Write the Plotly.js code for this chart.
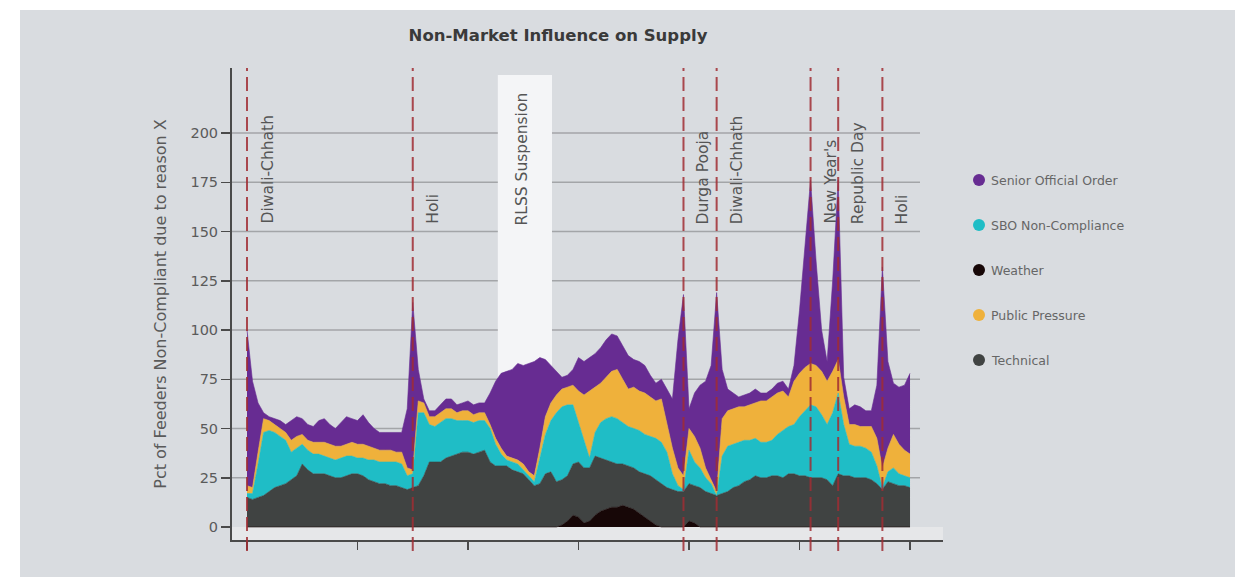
<!DOCTYPE html>
<html><head><meta charset="utf-8">
<script src="https://cdn.plot.ly/plotly-3.0.1.min.js"></script>
<style>
html,body{margin:0;padding:0;background:#ffffff;width:1255px;height:577px;overflow:hidden;}
#chart{position:absolute;left:20px;top:10px;width:1215px;height:567px;}
</style></head><body><div id="chart"></div>
<script>
// ---------- DATA ----------
const chartTitle = 'Non-Market Influence on Supply';
const yAxisTitle = 'Pct of Feeders Non-Compliant due to reason X';

// observation index (x axis has no labels in the source)
const periods = Array.from({length: 121}, (_, i) => i);

const weather = [
  0,0,0,0,0,0,0,0,0,0,
  0,0,0,0,0,0,0,0,0,0,
  0,0,0,0,0,0,0,0,0,0,
  0,0,0,0,0,0,0,0,0,0,
  0,0,0,0,0,0,0,0,0,0,
  0,0,0,0,0,0,0,1,3,6,
  5,2,3,6,8,9,10,10,11,10,
  9,7,5,3,1,0,0,0,0,0,
  3,2,0,0,0,0,0,0,0,0,
  0,0,0,0,0,0,0,0,0,0,
  0,0,0,0,0,0,0,0,0,0,
  0,0,0,0,0,0,0,0,0,0,0
];
const technical = [
  15,14,15,16,18,20,21,22,24,26,
  32,29,27,27,27,26,25,25,26,27,
  27,26,24,23,22,22,21,21,20,19,
  20,21,26,33,33,33,35,36,37,38,
  38,37,38,39,33,31,31,31,29,28,
  27,24,21,22,27,28,23,23,23,26,
  28,28,27,30,27,25,23,22,21,21,
  21,21,22,23,23,22,20,19,18,18,
  19,19,20,18,17,16,17,18,20,21,
  23,24,26,25,25,26,26,25,27,27,
  26,26,25,25,25,24,21,27,26,26,
  25,25,25,24,22,19,23,22,21,21,20
];
const sboNonCompliance = [
  2,3,17,32,31,28,25,22,14,14,
  10,10,10,10,9,9,9,10,10,9,
  8,9,10,11,11,11,12,12,12,7,
  7,37,32,19,18,20,20,19,17,16,
  16,16,16,15,17,11,6,3,4,4,
  2,2,2,13,20,26,35,37,36,30,
  20,14,5,12,18,21,23,23,21,20,
  20,21,20,20,21,21,18,8,3,1,
  17,12,10,7,5,0,19,23,22,22,
  21,20,19,18,18,18,21,24,24,25,
  30,33,37,36,32,28,37,41,26,16,
  16,16,15,14,9,1,5,8,6,5,5
];
const publicPressure = [
  4,3,6,7,5,4,4,4,6,6,
  5,5,6,6,7,7,7,6,6,7,
  7,7,7,6,6,6,6,5,6,4,
  2,6,5,4,5,5,5,5,4,5,
  5,4,4,4,2,3,3,2,2,2,
  3,2,3,5,9,9,9,9,9,10,
  16,23,34,23,20,21,23,25,22,19,
  21,20,21,20,19,22,14,13,9,7,
  11,13,10,5,2,2,19,18,18,18,
  17,18,18,21,21,22,21,20,15,22,
  22,22,21,21,22,22,21,17,14,10,
  11,10,11,13,14,10,12,17,15,13,12
];
const seniorOfficialOrder = [
  79,54,25,3,2,3,4,4,10,10,
  8,8,8,11,12,10,9,12,14,12,
  12,15,12,10,9,9,9,10,10,30,
  85,16,2,3,3,4,5,5,4,4,
  5,5,5,5,16,29,38,43,45,49,
  50,55,58,46,29,19,12,6,6,8,
  17,17,17,17,18,19,19,17,17,17,
  14,15,14,11,9,10,18,25,65,92,
  10,22,32,44,58,101,25,11,8,5,
  6,6,7,4,4,4,5,5,4,8,
  32,64,93,53,21,10,46,91,10,8,
  10,10,8,8,27,102,44,26,29,33,41
];

// stacking order bottom -> top
const stackNames = ['Weather', 'Technical', 'SBO Non-Compliance', 'Public Pressure', 'Senior Official Order'];
const stackValues = [weather, technical, sboNonCompliance, publicPressure, seniorOfficialOrder];
// legend order (top -> bottom)
const legendNames = ['Senior Official Order', 'SBO Non-Compliance', 'Weather', 'Public Pressure', 'Technical'];

// events (dashed lines)
const eventLabels = ['Diwali-Chhath', 'Holi', 'Durga Pooja', 'Diwali-Chhath', "New Year's", 'Republic Day', 'Holi'];
const eventIndex = [0, 30, 79, 85, 102, 107, 115];
// shaded period
const shadeLabel = 'RLSS Suspension';
const shadeStart = 45.4;
const shadeEnd = 55.2;

const yTicks = [0, 25, 50, 75, 100, 125, 150, 175, 200];
const xTicks = [0, 20, 40, 60, 80, 100, 120];

// ---------- STYLE ----------
const colors = {
  'Weather': '#170707',
  'Technical': '#404342',
  'SBO Non-Compliance': '#1fbdc6',
  'Public Pressure': '#efb13b',
  'Senior Official Order': '#672c92'
};
const FONT = 'DejaVu Sans, Verdana, sans-serif';

// page-pixel helpers (div at left 20, top 10; plot area 232..943 x 68..540)
const PX0 = 232, PW = 711, PY1 = 540, PH = 472;
const pX = px => (px - PX0) / PW;
const pY = py => (PY1 - py) / PH;

const traces = stackNames.map((name, k) => ({
  type: 'scatter',
  mode: 'lines',
  name: name,
  x: periods,
  y: stackValues[k],
  stackgroup: 'one',
  line: {width: 0.6, color: colors[name], shape: 'linear'},
  fillcolor: colors[name],
  showlegend: false,
  hoverinfo: 'x+y+name'
}));

const shapes = [];
// light band under zero
shapes.push({type: 'rect', xref: 'paper', x0: 0, x1: 1, yref: 'y', y0: -6.6, y1: 0,
  fillcolor: '#e6e7e9', line: {width: 0}, layer: 'below'});
// grid lines
yTicks.filter(v => v > 0).forEach(v => shapes.push({
  type: 'line', xref: 'paper', x0: 0, x1: pX(920), yref: 'y', y0: v, y1: v,
  line: {color: '#a3a5a8', width: 1.5}, layer: 'below'}));
// shaded period
shapes.push({type: 'rect', xref: 'x', x0: shadeStart, x1: shadeEnd, yref: 'paper', y0: pY(527), y1: pY(75),
  fillcolor: '#f4f5f7', line: {width: 0}, layer: 'below'});
// event lines
eventIndex.forEach(ix => shapes.push({
  type: 'line', xref: 'x', x0: ix, x1: ix, yref: 'paper', y0: pY(551), y1: pY(68),
  line: {color: 'rgba(160,45,50,0.85)', width: 2, dash: '14px,6px'}, layer: 'above'}));
// legend markers
legendNames.forEach((name, k) => shapes.push({
  type: 'circle', xref: 'paper', yref: 'paper', xsizemode: 'pixel', ysizemode: 'pixel',
  xanchor: pX(979), yanchor: pY(180 + 45 * k), x0: -6, x1: 6, y0: -6, y1: 6,
  fillcolor: colors[name], line: {width: 0}}));

const annotations = [];
eventLabels.forEach((lab, k) => annotations.push({
  text: lab, xref: 'x', x: eventIndex[k], yref: 'paper', y: pY(226),
  xanchor: 'left', yanchor: 'bottom', xshift: 9, textangle: -90, showarrow: false,
  font: {family: FONT, size: 15.5, color: '#555555'}}));
annotations.push({
  text: shadeLabel, xref: 'x', x: (shadeStart + shadeEnd) / 2, yref: 'paper', y: pY(227),
  xanchor: 'center', yanchor: 'bottom', xshift: -3, textangle: -90, showarrow: false,
  font: {family: FONT, size: 15.5, color: '#555555'}});
legendNames.forEach((name, k) => annotations.push({
  text: name, xref: 'paper', x: pX(989), yref: 'paper', y: pY(180 + 45 * k),
  xanchor: 'left', yanchor: 'middle', showarrow: false,
  font: {family: FONT, size: 12.5, color: '#666666'}}));

const layout = {
  width: 1215, height: 567,
  margin: {l: 212, r: 292, t: 58, b: 37, pad: 0},
  paper_bgcolor: '#d9dce0',
  plot_bgcolor: 'rgba(0,0,0,0)',
  showlegend: false,
  title: {text: chartTitle, xref: 'container', x: (558 - 20) / 1215, xanchor: 'center',
    yref: 'container', y: 1 - (35 - 10) / 567, yanchor: 'middle',
    font: {family: FONT, size: 16.5, color: '#3a3a3a', weight: 'bold'}},
  xaxis: {range: [-2.715, 125.97], tickvals: xTicks, showticklabels: false,
    ticks: 'outside', ticklen: 8, tickwidth: 1.5, tickcolor: '#4a4a4a',
    showline: true, linecolor: '#4a4a4a', linewidth: 2, showgrid: false, zeroline: false, fixedrange: true},
  yaxis: {range: [-6.6, 233], tickvals: yTicks, ticks: 'outside', ticklen: 9, tickwidth: 1.5,
    tickcolor: '#4a4a4a', showline: true, linecolor: '#4a4a4a', linewidth: 2,
    showgrid: false, zeroline: false, fixedrange: true,
    tickfont: {family: FONT, size: 14.5, color: '#5a5a5a'},
    title: {text: yAxisTitle, standoff: 20, font: {family: FONT, size: 16, color: '#5a5a5a'}}},
  shapes: shapes,
  annotations: annotations
};

Plotly.newPlot('chart', traces, layout, {displayModeBar: false, staticPlot: true});
</script></body></html>
